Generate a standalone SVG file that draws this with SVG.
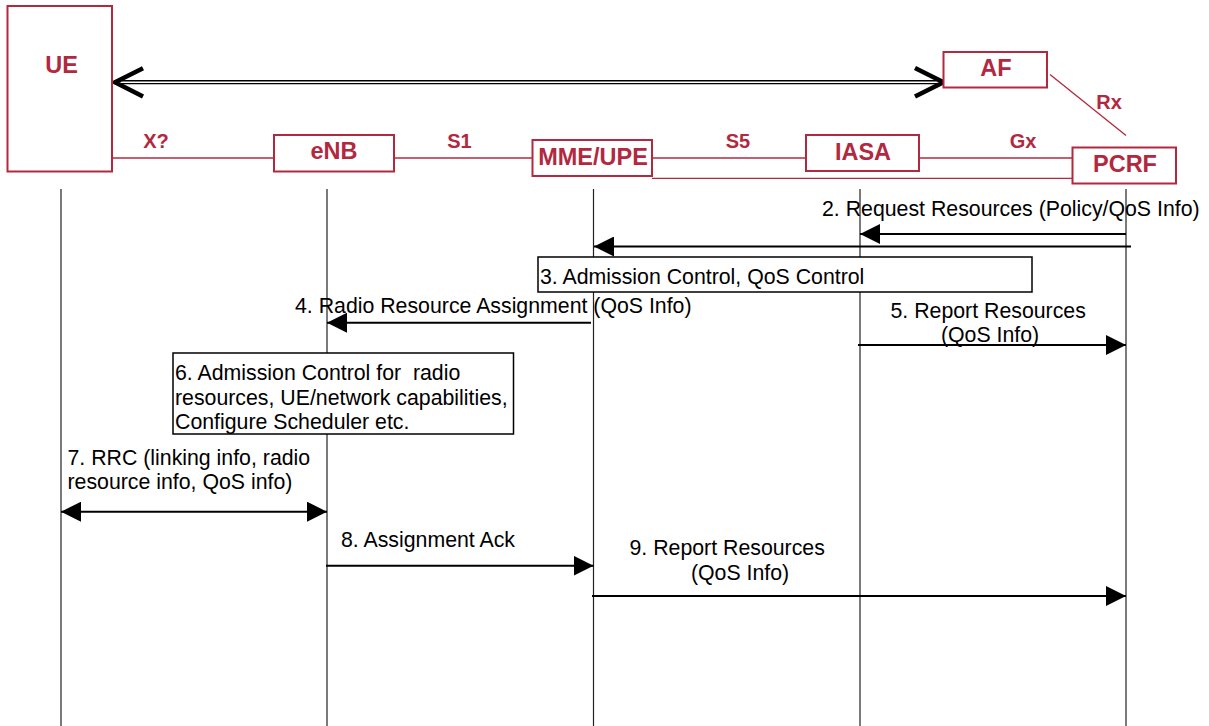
<svg xmlns="http://www.w3.org/2000/svg" width="1209" height="726" viewBox="0 0 1209 726">
  <style>
    .node { fill: #ffffff; stroke: #b2283f; stroke-width: 2; }
    .nlabel { font-family: "Liberation Sans", Arial, sans-serif; font-weight: bold; font-size: 23.5px; fill: #b2283f; text-anchor: middle; }
    .iflabel { font-family: "Liberation Sans", Arial, sans-serif; font-weight: bold; font-size: 20px; fill: #b2283f; text-anchor: middle; }
    .iface { stroke: #b2283f; stroke-width: 1.3; fill: none; }
    .life { stroke: #222222; stroke-width: 1.2; fill: none; }
    .msg { stroke: #000000; stroke-width: 2; fill: none; }
    .txt { font-family: "Liberation Sans", Arial, sans-serif; font-size: 21.3px; fill: #000000; }
    .step { fill: #ffffff; stroke: #000000; stroke-width: 1.5; }
    .chev { stroke: #000000; stroke-width: 4.5; fill: none; stroke-linecap: butt; }
  </style>
  <defs>
    <marker id="head" viewBox="0 0 20 20" refX="20" refY="10" markerWidth="20" markerHeight="20" markerUnits="userSpaceOnUse" orient="auto-start-reverse">
      <path d="M0,0 L20,10 L0,20 Z" fill="#000000"/>
    </marker>
  </defs>
  <rect width="1209" height="726" fill="#ffffff"/>

  <!-- interface links between network elements -->
  <g id="interfaces">
    <line class="iface" x1="112" y1="158" x2="274" y2="158"/>
    <line class="iface" x1="394" y1="158" x2="532" y2="158"/>
    <line class="iface" x1="652" y1="158" x2="806" y2="158"/>
    <line class="iface" x1="920" y1="158" x2="1072" y2="158"/>
    <line class="iface" x1="652" y1="178.3" x2="1072" y2="178.3"/>
    <line class="iface" x1="1050" y1="74.5" x2="1126" y2="135.5"/>
    <text class="iflabel" x="156" y="148">X?</text>
    <text class="iflabel" x="459.5" y="147.5">S1</text>
    <text class="iflabel" x="738" y="147.5">S5</text>
    <text class="iflabel" x="1023" y="147.5">Gx</text>
    <text class="iflabel" x="1109" y="109">Rx</text>
  </g>

  <!-- application-level path between UE and AF -->
  <g id="app-path">
    <line stroke="#000000" stroke-width="1.4" x1="114" y1="80.8" x2="944" y2="80.8"/>
    <line stroke="#000000" stroke-width="1.4" x1="114" y1="83.6" x2="944" y2="83.6"/>
    <polyline class="chev" points="143,68.3 115,82.3 143,96.5"/>
    <polyline class="chev" points="915,68 943.5,82.3 915,96.5"/>
  </g>

  <!-- network elements -->
  <g id="node-ue">
    <rect class="node" x="7.5" y="6" width="104.5" height="165.5"/>
    <text class="nlabel" x="61.5" y="73">UE</text>
  </g>
  <g id="node-enb">
    <rect class="node" x="274" y="135" width="120" height="36.5"/>
    <text class="nlabel" x="334" y="158.5">eNB</text>
  </g>
  <g id="node-mme">
    <rect class="node" x="532.5" y="140" width="119.5" height="36"/>
    <text class="nlabel" x="593" y="164.5">MME/UPE</text>
  </g>
  <g id="node-iasa">
    <rect class="node" x="806" y="135" width="113" height="36"/>
    <text class="nlabel" x="863" y="159.5">IASA</text>
  </g>
  <g id="node-af">
    <rect class="node" x="943.5" y="52" width="103.5" height="35.5"/>
    <text class="nlabel" x="996" y="76">AF</text>
  </g>
  <g id="node-pcrf">
    <rect class="node" x="1072.5" y="147.5" width="103.5" height="36"/>
    <text class="nlabel" x="1125" y="172">PCRF</text>
  </g>

  <!-- lifelines -->
  <g id="lifelines">
    <line class="life" x1="61" y1="189" x2="61" y2="726"/>
    <line class="life" x1="327" y1="189" x2="327" y2="726"/>
    <line class="life" x1="593.5" y1="189" x2="593.5" y2="726"/>
    <line class="life" x1="860" y1="189" x2="860" y2="726"/>
    <line class="life" x1="1126" y1="189" x2="1126" y2="726"/>
  </g>

  <!-- message flow -->
  <g id="connectors">
    <line class="msg" x1="1126" y1="234" x2="860" y2="234" marker-end="url(#head)"/>
    <line class="msg" x1="1131" y1="246.5" x2="594" y2="246.5" marker-end="url(#head)"/>
    <line class="msg" x1="591" y1="322.7" x2="327" y2="322.7" marker-end="url(#head)"/>
    <line class="msg" x1="858" y1="345" x2="1126" y2="345" marker-end="url(#head)"/>
    <line class="msg" x1="61" y1="511.7" x2="327" y2="511.7" marker-start="url(#head)" marker-end="url(#head)"/>
    <line class="msg" x1="326" y1="565.7" x2="593.5" y2="565.7" marker-end="url(#head)"/>
    <line class="msg" x1="592" y1="596" x2="1126" y2="596" marker-end="url(#head)"/>
  </g>

  <!-- processing steps -->
  <g id="step-3">
    <rect class="step" x="538" y="257" width="494" height="35"/>
    <text class="txt" x="540" y="284.3">3. Admission Control, QoS Control</text>
  </g>
  <g id="step-6">
    <rect class="step" x="173" y="353" width="340.5" height="81"/>
    <text class="txt" x="175" y="380" xml:space="preserve">6. Admission Control for  radio</text>
    <text class="txt" x="175" y="405">resources, UE/network capabilities,</text>
    <text class="txt" x="175" y="429">Configure Scheduler etc.</text>
  </g>

  <!-- message labels -->
  <g id="labels">
    <text class="txt" x="822" y="216">2. Request Resources (Policy/QoS Info)</text>
    <text class="txt" x="295" y="312.7">4. Radio Resource Assignment (QoS Info)</text>
    <text class="txt" x="890.5" y="318.3">5. Report Resources</text>
    <text class="txt" x="990" y="341.7" text-anchor="middle">(QoS Info)</text>
    <text class="txt" x="67.5" y="465">7. RRC (linking info, radio</text>
    <text class="txt" x="67.5" y="489.3">resource info, QoS info)</text>
    <text class="txt" x="341" y="546.7">8. Assignment Ack</text>
    <text class="txt" x="629.5" y="555">9. Report Resources</text>
    <text class="txt" x="740" y="580" text-anchor="middle">(QoS Info)</text>
  </g>
</svg>
